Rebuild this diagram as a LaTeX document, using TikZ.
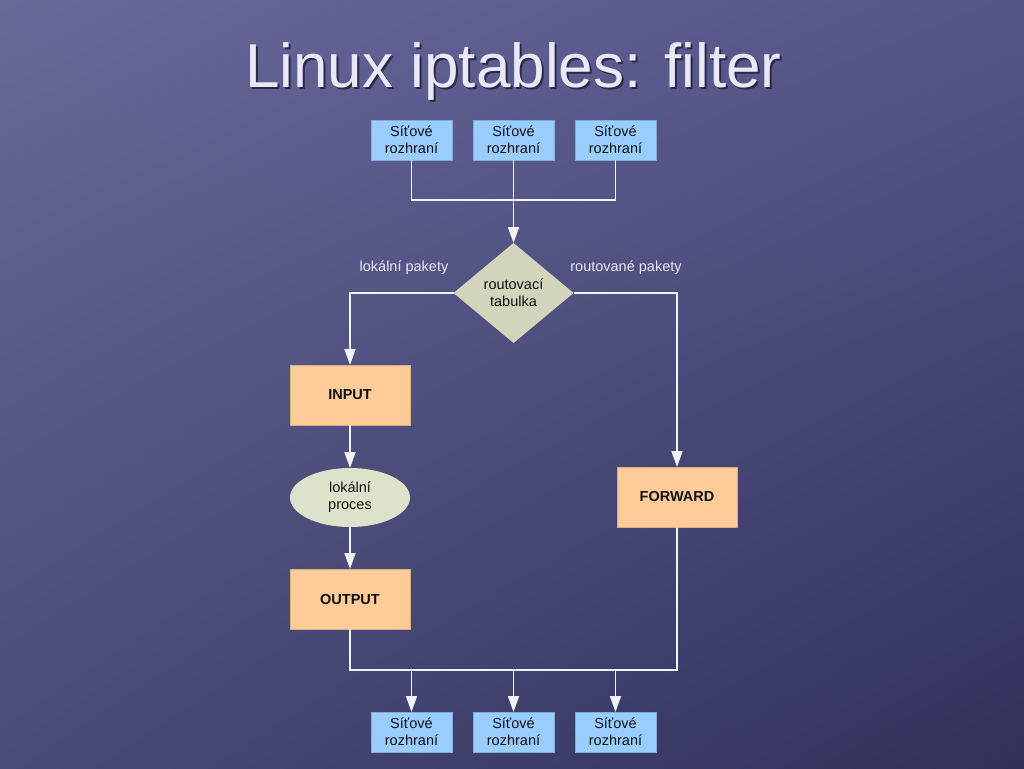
\documentclass[tikz,border=0pt]{standalone}
\usepackage{fontspec}
\setmainfont{Liberation Sans}
\usetikzlibrary{shapes.geometric,arrows.meta,shadings}
\definecolor{bgTL}{HTML}{686899}
\definecolor{bgTR}{HTML}{55558A}
\definecolor{bgBL}{HTML}{4B4B7A}
\definecolor{bgBR}{HTML}{30305A}
\definecolor{netblue}{HTML}{99CCFF}
\definecolor{peach}{HTML}{FFCC99}
\definecolor{diamondc}{HTML}{D4D4BC}
\definecolor{ellc}{HTML}{DDE2CB}
\definecolor{wirec}{HTML}{F2F2FA}
\definecolor{titlec}{HTML}{E8E8F6}
\definecolor{shadowc}{HTML}{2A2A48}
\definecolor{txt}{HTML}{111111}
\begin{document}
\begin{tikzpicture}[x=1pt,y=-1pt,
  netbox/.style={rectangle,fill=netblue,draw=netblue!85!black,line width=0.4pt,
    minimum width=81pt,minimum height=40pt,inner sep=0pt,outer sep=0pt,
    align=center,font=\fontsize{14.5}{17}\selectfont,text=txt},
  chainbox/.style={rectangle,fill=peach,draw=peach!85!black,line width=0.4pt,
    minimum width=120pt,minimum height=60pt,inner sep=0pt,outer sep=0pt,
    font=\fontsize{14.5}{17}\selectfont\bfseries,text=txt},
  decision/.style={diamond,fill=diamondc,draw=none,aspect=1.2,
    minimum width=120pt,minimum height=100pt,inner sep=0pt,outer sep=0pt,
    align=center,font=\fontsize{14.5}{17}\selectfont,text=txt},
  procell/.style={ellipse,fill=ellc,draw=none,
    minimum width=120pt,minimum height=59pt,inner sep=0pt,outer sep=0pt,
    align=center,font=\fontsize{14.5}{17}\selectfont,text=txt},
  lbl/.style={font=\fontsize{14.5}{17}\selectfont,text=titlec,inner sep=0pt},
  wire/.style={draw=wirec,line width=1.8pt},
  arr/.style={wire,-{Triangle[width=11pt,length=16pt]}},
  titletext/.style={font=\fontsize{62}{68}\selectfont,inner sep=0pt,anchor=base}
]
\shade[upper left=bgTL,upper right=bgTR,lower left=bgBL,lower right=bgBR]
  (0,0) rectangle (1024,768);
\useasboundingbox (0,0) rectangle (1024,768);

% title with shadow
\node[titletext,text=shadowc] (ts) at (515.5,89.5) {Linux iptables: filter};
\node[titletext,text=titlec] (tt) at (513.5,87.5) {Linux iptables: filter};

% top interfaces
\node[netbox] (t1) at (411.5,140) {Síťové\\rozhraní};
\node[netbox] (t2) at (513.5,140) {Síťové\\rozhraní};
\node[netbox] (t3) at (615.5,140) {Síťové\\rozhraní};

% routing decision
\node[decision] (d) at (513.5,293) {routovací\\tabulka};
\node[lbl] (ll) at (404,268) {lokální pakety};
\node[lbl] (lr) at (626,268) {routované pakety};

% chains
\node[chainbox] (in) at (350,395) {INPUT};
\node[procell] (lp) at (350,497.5) {lokální\\proces};
\node[chainbox] (out) at (350,599) {OUTPUT};
\node[chainbox] (fw) at (677,497) {FORWARD};

% bottom interfaces
\node[netbox] (b1) at (411.5,732) {Síťové\\rozhraní};
\node[netbox] (b2) at (513.5,732) {Síťové\\rozhraní};
\node[netbox] (b3) at (615.5,732) {Síťové\\rozhraní};

\coordinate (jt) at (513.5,200);
\coordinate (jb) at (513.5,670);

% connectors top
\draw[wire] (t1.south) |- (jt);
\draw[wire] (t3.south) |- (jt);
\draw[wire] (t2.south) -- (jt);
\draw[arr] (jt) -- (d.north);

% branches
\draw[arr] (d.west) -| (in.north);
\draw[arr] (d.east) -| (fw.north);
\draw[arr] (in.south) -- (lp.north);
\draw[arr] (lp.south) -- (out.north);

% merge bottom
\draw[wire] (out.south) |- (jb) -| (fw.south);
\draw[arr] (b1.north |- jb) -- (b1.north);
\draw[arr] (jb) -- (b2.north);
\draw[arr] (b3.north |- jb) -- (b3.north);
\end{tikzpicture}
\end{document}
